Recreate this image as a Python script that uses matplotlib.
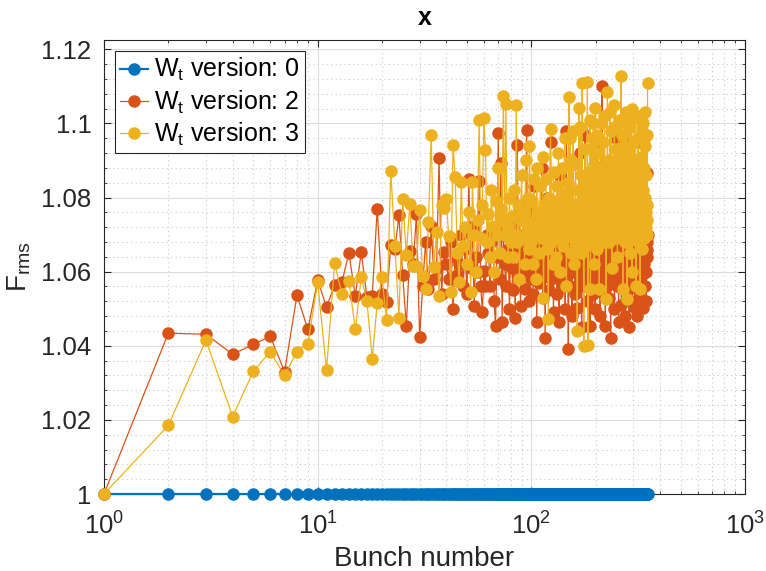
import numpy as np
import matplotlib
matplotlib.use('Agg')
import matplotlib.pyplot as plt
from matplotlib.ticker import LogLocator, MultipleLocator, FixedLocator, NullFormatter

plt.rcParams['font.family'] = ['Liberation Sans', 'DejaVu Sans']
plt.rcParams['mathtext.fontset'] = 'custom'
plt.rcParams['mathtext.rm'] = 'Liberation Sans'
plt.rcParams['mathtext.it'] = 'Liberation Sans:italic'
plt.rcParams['mathtext.bf'] = 'Liberation Sans:bold'

# Bunch index
bunches = np.arange(1, 351)

# W_t version 0 : flat at 1
f_v0 = [1.0] * len(bunches)

# W_t version 2
f_v2 = [
    1.0000, 1.0434, 1.0431, 1.0377, 1.0404, 1.0425, 1.0330, 1.0536, 1.0444, 1.0578,
    1.0504, 1.0564, 1.0573, 1.0650, 1.0535, 1.0652, 1.0531, 1.0533, 1.0770, 1.0539,
    1.0518, 1.0672, 1.0660, 1.0752, 1.0591, 1.0453, 1.0657, 1.0621, 1.0756, 1.0423,
    1.0560, 1.0680, 1.0553, 1.0724, 1.0580, 1.0610, 1.0907, 1.0540, 1.0652, 1.0620,
    1.0580, 1.0679, 1.0499, 1.0640, 1.0590, 1.0621, 1.0700, 1.0560, 1.0660, 1.0540,
    1.0851, 1.0610, 1.0720, 1.0508, 1.0640, 1.0600, 1.0845, 1.0560, 1.0491, 1.0603,
    1.0560, 1.0700, 1.0650, 1.0560, 1.0680, 1.0720, 1.0520, 1.0452, 1.0640, 1.0973,
    1.0580, 1.0892, 1.0464, 1.0700, 1.0620, 1.0560, 1.0740, 1.0660, 1.0500, 1.0690,
    1.0610, 1.0550, 1.0720, 1.0476, 1.0680, 1.0941, 1.0590, 1.0650, 1.0508, 1.0700,
    1.0620, 1.0780, 1.0553, 1.0690, 1.0982, 1.0600, 1.0640, 1.0520, 1.0760, 1.0580,
    1.0670, 1.0540, 1.0830, 1.0610, 1.0700, 1.0463, 1.0650, 1.0740, 1.0570, 1.0690,
    1.0600, 1.0880, 1.0530, 1.0660, 1.0720, 1.0422, 1.0640, 1.0590, 1.0800, 1.0620,
    1.0550, 1.0700, 1.0950, 1.0580, 1.0680, 1.0620, 1.0490, 1.0730, 1.0600, 1.0660,
    1.0760, 1.0540, 1.0690, 1.0620, 1.0463, 1.0710, 1.0580, 1.0850, 1.0640, 1.0560,
    1.0700, 1.0610, 1.0790, 1.0500, 1.0670, 1.0979, 1.0590, 1.0630, 1.0390, 1.0720,
    1.0620, 1.0560, 1.0740, 1.0680, 1.0480, 1.0650, 1.0890, 1.0600, 1.0700, 1.0540,
    1.0660, 1.0780, 1.0610, 1.0503, 1.0720, 1.0640, 1.0570, 1.0690, 1.0920, 1.0600,
    1.0680, 1.0450, 1.0750, 1.0620, 1.0560, 1.0700, 1.0660, 1.0969, 1.0590, 1.0640,
    1.0730, 1.0520, 1.0680, 1.0610, 1.0800, 1.0570, 1.0660, 1.0453, 1.0710, 1.0630,
    1.0590, 1.0860, 1.0650, 1.0700, 1.0540, 1.0680, 1.0620, 1.0760, 1.0500, 1.0670,
    1.0610, 1.0730, 1.0580, 1.0690, 1.0940, 1.0640, 1.0560, 1.0710, 1.0620, 1.0480,
    1.0680, 1.0600, 1.0770, 1.1100, 1.0650, 1.0550, 1.0700, 1.0630, 1.0820, 1.0590,
    1.0670, 1.0453, 1.0720, 1.0610, 1.0690, 1.0560, 1.0740, 1.0640, 1.0600, 1.0880,
    1.0660, 1.0530, 1.0700, 1.0620, 1.0422, 1.0680, 1.0600, 1.0750, 1.0650, 1.0570,
    1.0700, 1.0610, 1.0840, 1.0660, 1.0500, 1.0720, 1.0630, 1.0590, 1.0690, 1.0960,
    1.0640, 1.0560, 1.0710, 1.0620, 1.0680, 1.0463, 1.0740, 1.0600, 1.0660, 1.0790,
    1.0580, 1.0700, 1.0630, 1.0510, 1.0690, 1.0650, 1.0900, 1.0610, 1.0720, 1.0570,
    1.0660, 1.0620, 1.0760, 1.0480, 1.0700, 1.0640, 1.0590, 1.0830, 1.0650, 1.0610,
    1.0720, 1.0550, 1.0680, 1.1014, 1.0630, 1.0700, 1.0450, 1.0660, 1.0610, 1.0750,
    1.0590, 1.0690, 1.0640, 1.0520, 1.0710, 1.0660, 1.0870, 1.0600, 1.0680, 1.0630,
    1.0700, 1.0560, 1.0740, 1.0620, 1.0503, 1.0690, 1.0650, 1.0800, 1.0600, 1.0670,
    1.0720, 1.0480, 1.0660, 1.0630, 1.0950, 1.0690, 1.0580, 1.0700, 1.0640, 1.0760,
    1.0610, 1.0680, 1.0530, 1.0720, 1.0650, 1.0620, 1.0850, 1.0590, 1.0700, 1.0660,
    1.0640, 1.0503, 1.0730, 1.0610, 1.0690, 1.0960, 1.0620, 1.0680, 1.0560, 1.0710,
    1.0650, 1.0780, 1.0600, 1.0700, 1.0520, 1.0680, 1.0640, 1.0867, 1.0659, 1.0700,
]

# W_t version 3
f_v3 = [
    1.0000, 1.0185, 1.0415, 1.0209, 1.0331, 1.0384, 1.0320, 1.0384, 1.0406, 1.0571,
    1.0334, 1.0622, 1.0539, 1.0575, 1.0444, 1.0586, 1.0521, 1.0365, 1.0515, 1.0585,
    1.0469, 1.0871, 1.0670, 1.0476, 1.0797, 1.0645, 1.0783, 1.0614, 1.0616, 1.0767,
    1.0589, 1.0553, 1.0735, 1.0970, 1.0612, 1.0707, 1.0535, 1.0780, 1.0772, 1.0797,
    1.0697, 1.0544, 1.0943, 1.0856, 1.0650, 1.0571, 1.0842, 1.0670, 1.0720, 1.0620,
    1.0760, 1.0544, 1.0842, 1.0700, 1.0600, 1.0740, 1.1008, 1.0690, 1.0780, 1.1015,
    1.0928, 1.0680, 1.0756, 1.0640, 1.0820, 1.0720, 1.0600, 1.0790, 1.0700, 1.0880,
    1.0650, 1.0770, 1.0740, 1.1073, 1.0700, 1.1052, 1.0720, 1.0640, 1.0800, 1.0680,
    1.0750, 1.0639, 1.0820, 1.0700, 1.1050, 1.0680, 1.0780, 1.0580, 1.0740, 1.0860,
    1.0690, 1.0760, 1.0620, 1.0900, 1.0710, 1.0800, 1.0660, 1.0940, 1.0730, 1.0680,
    1.0790, 1.0620, 1.0850, 1.0720, 1.0580, 1.0880, 1.0700, 1.0760, 1.0650, 1.0830,
    1.0740, 1.0690, 1.0910, 1.0530, 1.0780, 1.0710, 1.0850, 1.0660, 1.0760, 1.0472,
    1.0800, 1.0700, 1.0986, 1.0680, 1.0750, 1.0620, 1.0870, 1.0720, 1.0790, 1.0640,
    1.0760, 1.0830, 1.0690, 1.0920, 1.0730, 1.0600, 1.0800, 1.0710, 1.0880, 1.0670,
    1.0770, 1.0740, 1.0960, 1.0690, 1.0810, 1.0560, 1.0750, 1.0840, 1.0700, 1.1072,
    1.0720, 1.0960, 1.0650, 1.0900, 1.0760, 1.0700, 1.0980, 1.0620, 1.0780, 1.0730,
    1.0890, 1.0680, 1.0770, 1.0440, 1.0820, 1.0740, 1.1041, 1.0700, 1.0990, 1.0650,
    1.0860, 1.0720, 1.1108, 1.0690, 1.0800, 1.0399, 1.0760, 1.0930, 1.0710, 1.0840,
    1.0670, 1.0780, 1.1113, 1.0402, 1.0750, 1.0870, 1.0700, 1.1010, 1.0553, 1.0790,
    1.0730, 1.0960, 1.0680, 1.0800, 1.1000, 1.0890, 1.0620, 1.0770, 1.1041, 1.0710,
    1.0850, 1.0700, 1.0970, 1.0660, 1.0920, 1.0740, 1.0810, 1.0553, 1.0770, 1.0880,
    1.0720, 1.1000, 1.0760, 1.0690, 1.0840, 1.0730, 1.0950, 1.0680, 1.0800, 1.1020,
    1.0870, 1.0710, 1.0790, 1.0526, 1.0830, 1.0740, 1.1086, 1.0700, 1.0810, 1.0770,
    1.0900, 1.0680, 1.1030, 1.0840, 1.0720, 1.0980, 1.0750, 1.0610, 1.0820, 1.0790,
    1.0700, 1.0880, 1.0740, 1.0990, 1.1050, 1.0720, 1.0850, 1.0690, 1.0780, 1.0930,
    1.0740, 1.0820, 1.0640, 1.0870, 1.0760, 1.1010, 1.0900, 1.0780, 1.0830, 1.0700,
    1.0800, 1.0750, 1.1127, 1.0690, 1.0860, 1.0730, 1.0970, 1.0553, 1.0790, 1.0940,
    1.0720, 1.0850, 1.0760, 1.0680, 1.1000, 1.0740, 1.0810, 1.1030, 1.0890, 1.0526,
    1.0800, 1.0730, 1.0920, 1.0760, 1.0840, 1.0700, 1.0990, 1.0860, 1.0650, 1.0990,
    1.0750, 1.0820, 1.0710, 1.0880, 1.1040, 1.0600, 1.0830, 1.0740, 1.0950, 1.0720,
    1.0810, 1.0760, 1.0870, 1.0690, 1.1014, 1.0780, 1.0740, 1.0850, 1.0560, 1.0800,
    1.0720, 1.0900, 1.0770, 1.1020, 1.0680, 1.0960, 1.0750, 1.0810, 1.0700, 1.0870,
    1.0780, 1.0740, 1.0553, 1.0820, 1.0760, 1.0910, 1.0720, 1.0980, 1.0660, 1.0850,
    1.0770, 1.1000, 1.0730, 1.0820, 1.0750, 1.0690, 1.0880, 1.0780, 1.1030, 1.0710,
    1.0800, 1.0940, 1.0760, 1.0720, 1.0860, 1.0740, 1.0970, 1.0780, 1.0700, 1.1108,
]

labels = [r'W$_\mathrm{t}$ version: 0', r'W$_\mathrm{t}$ version: 2', r'W$_\mathrm{t}$ version: 3']
colors = ['#0072BD', '#D95319', '#EDB120']

fig = plt.figure(figsize=(7.66, 5.71), dpi=100)
ax = fig.add_axes([104 / 766, 77 / 571, 641 / 766, 454 / 571])

# plot series (matlab style, markers not clipped)
ax.plot(bunches, f_v0, '-o', color=colors[0], lw=1.6, ms=8, label=labels[0], zorder=3, clip_on=False)
ax.plot(bunches, f_v2, '-o', color=colors[1], lw=0.9, ms=8, label=labels[1], zorder=4, clip_on=False)
ax.plot(bunches, f_v3, '-o', color=colors[2], lw=0.9, ms=8, label=labels[2], zorder=5, clip_on=False)

ax.set_xscale('log')
ax.set_xlim(1, 1000)
ax.set_ylim(1.0, 1.1225)

ax.xaxis.set_major_locator(FixedLocator([1, 10, 100, 1000]))
ax.set_xticklabels([r'$10^{0}$', r'$10^{1}$', r'$10^{2}$', r'$10^{3}$'])
ax.xaxis.set_minor_locator(LogLocator(base=10, subs=np.arange(2, 10)))
ax.xaxis.set_minor_formatter(NullFormatter())
ax.yaxis.set_major_locator(FixedLocator([1.0, 1.02, 1.04, 1.06, 1.08, 1.1, 1.12]))
ax.set_yticklabels(['1', '1.02', '1.04', '1.06', '1.08', '1.1', '1.12'])
ax.yaxis.set_minor_locator(MultipleLocator(0.004))

ax.grid(True, which='major', color='#dcdcdc', lw=0.8, ls='-', zorder=0)
ax.grid(True, which='minor', color='#c8c8c8', lw=0.8, ls=(0, (1, 3)), zorder=0)
ax.set_axisbelow(True)

ax.tick_params(which='both', direction='in', top=True, right=True, colors='#262626', labelsize=18.5)
ax.tick_params(which='major', length=5, width=0.8)
ax.tick_params(which='minor', length=2.5, width=0.6)
ax.tick_params(axis='x', which='major', pad=13)
ax.tick_params(axis='y', which='major', pad=9)
for s in ax.spines.values():
    s.set_color('#262626')
    s.set_linewidth(0.8)

ax.set_xlabel('Bunch number', fontsize=20, color='#262626', labelpad=5)
ax.set_ylabel(r'F$_\mathrm{rms}$', fontsize=20, color='#262626', labelpad=6)
ax.set_title('x', fontsize=18, fontweight='bold', pad=11)

leg = ax.legend(loc='upper left', fontsize=18, fancybox=False, framealpha=1,
                edgecolor='#262626', handlelength=1.1, handletextpad=0.25,
                borderpad=0.2, labelspacing=0.2, borderaxespad=0.45)
leg.get_frame().set_linewidth(0.8)

fig.savefig('out.png', dpi=100)
